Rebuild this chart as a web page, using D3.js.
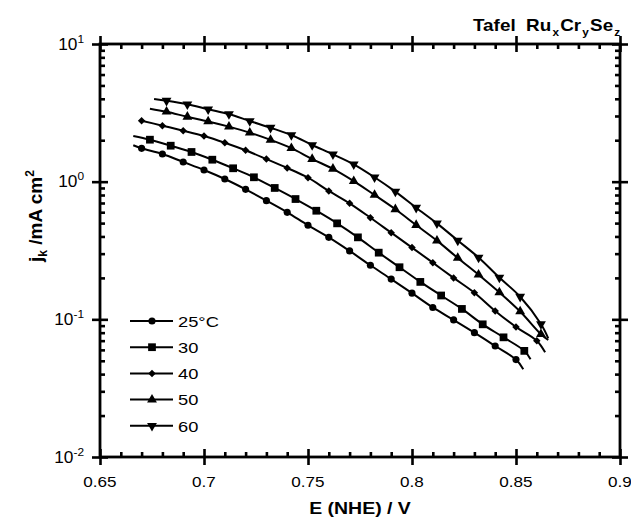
<!DOCTYPE html>
<html>
<head>
<meta charset="utf-8">
<script src="https://cdn.jsdelivr.net/npm/d3@7"></script>
<style>
  body { margin: 0; background: #fff; }
  svg { display: block; }
  text { font-family: "Liberation Sans", Arial, Helvetica, sans-serif; fill: #000; }
</style>
</head>
<body>
<svg id="chart" width="631" height="528"></svg>
<script>
// Tafel plot of the kinetic current density of RuxCrySez at five temperatures

const seriesNames = ["25°C", "30", "40", "50", "60"];

// potential (V vs NHE) and kinetic current density (mA cm-2) at the plotted symbols
const e25 = [0.670, 0.680, 0.690, 0.700, 0.710, 0.720, 0.730, 0.740, 0.750, 0.760, 0.770, 0.780, 0.790, 0.800, 0.810, 0.820, 0.830, 0.840, 0.850];
const j25 = [1.747, 1.589, 1.390, 1.216, 1.046, 0.880, 0.728, 0.599, 0.482, 0.394, 0.314, 0.247, 0.196, 0.155, 0.122, 0.099, 0.080, 0.064, 0.051];

const e30 = [0.674, 0.684, 0.694, 0.704, 0.714, 0.724, 0.734, 0.744, 0.754, 0.764, 0.774, 0.784, 0.794, 0.804, 0.814, 0.824, 0.834, 0.844, 0.854];
const j30 = [2.018, 1.825, 1.643, 1.444, 1.251, 1.076, 0.900, 0.748, 0.615, 0.498, 0.394, 0.305, 0.239, 0.187, 0.149, 0.119, 0.092, 0.074, 0.059];

const e40 = [0.670, 0.680, 0.690, 0.700, 0.710, 0.720, 0.730, 0.740, 0.750, 0.760, 0.770, 0.780, 0.790, 0.800, 0.810, 0.820, 0.830, 0.840, 0.850, 0.860];
const j40 = [2.773, 2.551, 2.346, 2.147, 1.919, 1.690, 1.461, 1.257, 1.069, 0.856, 0.696, 0.547, 0.426, 0.332, 0.258, 0.200, 0.156, 0.115, 0.088, 0.070];

const e50 = [0.682, 0.692, 0.702, 0.712, 0.722, 0.732, 0.742, 0.752, 0.762, 0.772, 0.782, 0.792, 0.802, 0.812, 0.822, 0.832, 0.842, 0.852, 0.862];
const j50 = [3.22, 2.96, 2.74, 2.51, 2.27, 2.01, 1.75, 1.46, 1.24, 1.01, 0.800, 0.630, 0.484, 0.373, 0.279, 0.211, 0.157, 0.114, 0.078];

const e60 = [0.682, 0.692, 0.702, 0.712, 0.722, 0.732, 0.742, 0.752, 0.762, 0.772, 0.782, 0.792, 0.802, 0.812, 0.822, 0.832, 0.842, 0.852, 0.862];
const j60 = [3.874, 3.648, 3.356, 3.101, 2.759, 2.466, 2.183, 1.847, 1.580, 1.337, 1.076, 0.846, 0.647, 0.498, 0.374, 0.281, 0.201, 0.146, 0.0925];

// first and last measured points of each trace (drawn as line only)
const leadE = [0.666, 0.666, 0.670, 0.674, 0.676];
const leadJ = [1.84, 2.15, 2.773, 3.39, 3.99];
const tailE = [0.8535, 0.857, 0.864, 0.8655, 0.8655];
const tailJ = [0.0434, 0.0513, 0.0576, 0.0708, 0.0728];

const xTickValues = [0.65, 0.7, 0.75, 0.8, 0.85, 0.9];
const xTickLabels = ["0.65", "0.7", "0.75", "0.8", "0.85", "0.9"];
const yTickValues = [0.01, 0.1, 1, 10];
const yTickExponents = ["-2", "-1", "0", "1"];

const titleParts = [["Tafel\u00a0\u00a0Ru", "x"], ["Cr", "y"], ["Se", "z"]];
const xTitle = "E (NHE) / V";

const potentials = [e25, e30, e40, e50, e60];
const currents = [j25, j30, j40, j50, j60];

// ---- layout ----
const svg = d3.select("#chart");
const L = 100, R = 620, T = 44, B = 457;
const SX = 1.18; // horizontal glyph stretch

const x = d3.scaleLinear().domain([0.65, 0.9]).range([L, R]);
const y = d3.scaleLog().domain([0.01, 10]).range([B, T]);

const xMinor = d3.range(65, 91).filter(i => i % 5 !== 0).map(i => i / 100);
const yMinor = [];
[0.01, 0.1, 1].forEach(d => { for (let k = 2; k <= 9; k++) yMinor.push(d * k); });

function wideText(g, px, py, anchor, size, weight, sx) {
  return g.append("text")
    .attr("transform", `translate(${px},${py}) scale(${sx || SX},1)`)
    .attr("text-anchor", anchor)
    .style("font-size", size + "px")
    .style("font-weight", weight || "normal");
}

const MAJ = 8, MIN = 5;

function styleAxis(g) {
  g.select(".domain").remove();
  g.selectAll(".tick line").attr("stroke", "#000").attr("stroke-width", 2.6);
}

// bottom
const gB = svg.append("g").attr("transform", `translate(0,${B})`)
  .call(d3.axisBottom(x).tickValues(xTickValues).tickSizeInner(MAJ).tickSizeOuter(0).tickFormat(""));
styleAxis(gB); gB.selectAll(".tick line").attr("y1", -MAJ);
const gBm = svg.append("g").attr("transform", `translate(0,${B})`)
  .call(d3.axisBottom(x).tickValues(xMinor).tickSizeInner(-MIN).tickSizeOuter(0).tickFormat(""));
styleAxis(gBm);

// top
const gT = svg.append("g").attr("transform", `translate(0,${T})`)
  .call(d3.axisTop(x).tickValues(xTickValues).tickSizeInner(MAJ).tickSizeOuter(0).tickFormat(""));
styleAxis(gT); gT.selectAll(".tick line").attr("y1", MAJ);
const gTm = svg.append("g").attr("transform", `translate(0,${T})`)
  .call(d3.axisTop(x).tickValues(xMinor).tickSizeInner(-MIN).tickSizeOuter(0).tickFormat(""));
styleAxis(gTm);

// left
const gL = svg.append("g").attr("transform", `translate(${L},0)`)
  .call(d3.axisLeft(y).tickValues(yTickValues).tickSizeInner(MAJ).tickSizeOuter(0).tickFormat(""));
styleAxis(gL); gL.selectAll(".tick line").attr("x1", MAJ);
const gLm = svg.append("g").attr("transform", `translate(${L},0)`)
  .call(d3.axisLeft(y).tickValues(yMinor).tickSizeInner(-MIN).tickSizeOuter(0).tickFormat(""));
styleAxis(gLm);

// right
const gR = svg.append("g").attr("transform", `translate(${R},0)`)
  .call(d3.axisRight(y).tickValues(yTickValues).tickSizeInner(MAJ).tickSizeOuter(0).tickFormat(""));
styleAxis(gR); gR.selectAll(".tick line").attr("x1", -MAJ);
const gRm = svg.append("g").attr("transform", `translate(${R},0)`)
  .call(d3.axisRight(y).tickValues(yMinor).tickSizeInner(-MIN).tickSizeOuter(0).tickFormat(""));
styleAxis(gRm);

// frame
svg.append("rect").attr("x", L).attr("y", T).attr("width", R - L).attr("height", B - T)
  .attr("fill", "none").attr("stroke", "#000").attr("stroke-width", 2.8);

// tick labels
xTickValues.forEach((v, i) => {
  wideText(svg, x(v), B + 30, "middle", 14.5).text(xTickLabels[i]);
});
yTickValues.forEach((v, i) => {
  const t = wideText(svg, 84, y(v) + 5.5, "end", 16, "normal", 1.08);
  t.append("tspan").text("10");
  t.append("tspan").attr("dy", -7).style("font-size", "11px").text(yTickExponents[i]);
});

// axis titles
wideText(svg, (L + R) / 2, 514, "middle", 16.5, "bold").text(xTitle);

const yt = svg.append("text")
  .attr("transform", "translate(42,216) rotate(-90)")
  .attr("text-anchor", "middle")
  .style("font-size", "19px").style("font-weight", "bold");
yt.append("tspan").text("j");
yt.append("tspan").attr("dy", 5).style("font-size", "12px").text("k");
yt.append("tspan").attr("dy", -5).text(" /mA cm");
yt.append("tspan").attr("dy", -8).style("font-size", "12px").text("2");

// plot title
const tt = wideText(svg, 473, 31, "start", 16, "bold");
titleParts.forEach(([main, sub], i) => {
  tt.append("tspan").attr("dy", i === 0 ? 0 : -5).attr("dx", i === 0 ? 0 : 1).text(main);
  tt.append("tspan").attr("dy", 5).attr("dx", 1).style("font-size", "10px").text(sub);
});

// symbols
const symbolFor = [
  { type: d3.symbolCircle, size: 40, rot: 0 },
  { type: d3.symbolSquare, size: 60, rot: 0 },
  { type: d3.symbolSquare, size: 28, rot: 45 },
  { type: d3.symbolTriangle, size: 42, rot: 0 },
  { type: d3.symbolTriangle, size: 42, rot: 180 }
];

const line = d3.line()
  .x(d => x(d[0]))
  .y(d => y(d[1]))
  .curve(d3.curveCatmullRom.alpha(0.5));

potentials.forEach((es, s) => {
  const js = currents[s];
  const pts = es.map((e, i) => [e, js[i]]);
  const full = [];
  if (leadE[s] < es[0]) full.push([leadE[s], leadJ[s]]);
  full.push(...pts);
  if (tailE[s] > es[es.length - 1]) full.push([tailE[s], tailJ[s]]);

  svg.append("path").datum(full)
    .attr("d", line)
    .attr("fill", "none").attr("stroke", "#000").attr("stroke-width", 2)
    .attr("stroke-linejoin", "round");

  const sym = symbolFor[s];
  svg.append("g").selectAll("path").data(pts).join("path")
    .attr("d", d3.symbol().type(sym.type).size(sym.size))
    .attr("transform", d => `translate(${x(d[0])},${y(d[1])}) rotate(${sym.rot})`)
    .attr("fill", "#000");
});

// legend
seriesNames.forEach((name, s) => {
  const ly = 321 + s * 26.2;
  const g = svg.append("g");
  g.append("line").attr("x1", 130).attr("x2", 173).attr("y1", ly).attr("y2", ly)
    .attr("stroke", "#000").attr("stroke-width", 2);
  const sym = symbolFor[s];
  g.append("path").attr("d", d3.symbol().type(sym.type).size(sym.size))
    .attr("transform", `translate(152,${ly}) rotate(${sym.rot})`).attr("fill", "#000");
  wideText(g, 178, ly + 5.8, "start", 15.5).text(name);
});
</script>
</body>
</html>
